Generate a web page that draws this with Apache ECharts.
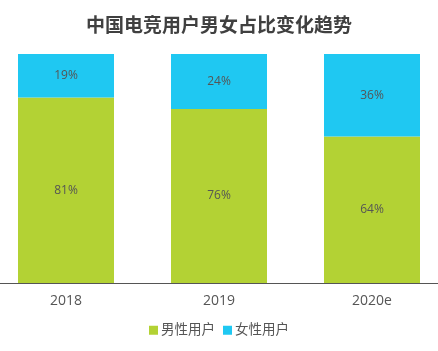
<!DOCTYPE html>
<html>
<head>
<meta charset="utf-8">
<style>
  html, body { margin: 0; padding: 0; background: #fff; }
  #chart { width: 438px; height: 351px; }
</style>
<script src="https://cdn.jsdelivr.net/npm/echarts@6/dist/echarts.min.js"></script>
</head>
<body>
<div id="chart"></div>
<script>
  // 数据
  var years = ['2018', '2019', '2020e'];
  var maleShare = [81, 76, 64];
  var femaleShare = [19, 24, 36];

  var fontFamily = '"Open Sans", "Noto Sans CJK SC", sans-serif';
  var myChart = echarts.init(document.getElementById('chart'));

  var segLabel = {
    show: true,
    position: 'inside',
    formatter: '{c}%',
    color: '#555',
    fontSize: 12,
    fontFamily: fontFamily
  };

  myChart.setOption({
    animation: false,
    title: {
      text: '中国电竞用户男女占比变化趋势',
      left: 'center',
      top: 10,
      textStyle: {
        fontSize: 19,
        fontWeight: 'bold',
        color: '#404040',
        fontFamily: '"Noto Sans CJK SC", sans-serif'
      }
    },
    legend: {
      bottom: 9,
      itemWidth: 9,
      itemHeight: 9,
      itemGap: 8,
      icon: 'rect',
      textStyle: { fontSize: 13.5, color: '#555', fontFamily: fontFamily, padding: [0, 0, 0, -2] },
      data: ['男性用户', '女性用户']
    },
    grid: {
      left: -10.5,
      width: 459,
      top: 54,
      bottom: 68,
      outerBoundsMode: 'none'
    },
    xAxis: {
      type: 'category',
      data: years,
      axisLine: { lineStyle: { color: '#555', width: 1 } },
      axisTick: { show: false },
      axisLabel: { color: '#555', fontSize: 14, fontFamily: fontFamily, margin: 11 }
    },
    yAxis: {
      type: 'value',
      min: 0,
      max: 100,
      show: false
    },
    series: [
      {
        name: '男性用户',
        type: 'bar',
        stack: 'total',
        barWidth: 96,
        data: maleShare,
        itemStyle: { color: '#b3d234' },
        label: segLabel
      },
      {
        name: '女性用户',
        type: 'bar',
        stack: 'total',
        barWidth: 96,
        data: femaleShare,
        itemStyle: { color: '#1fc8f2' },
        label: segLabel
      }
    ]
  });
</script>
</body>
</html>
